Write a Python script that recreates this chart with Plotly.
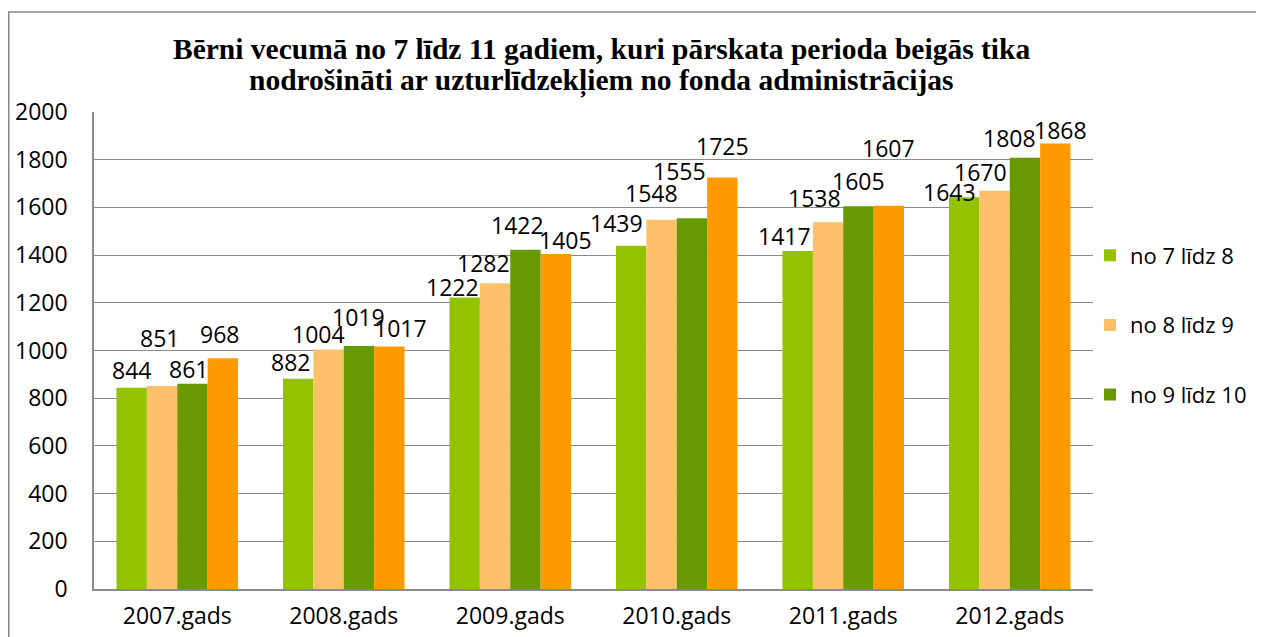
import plotly.graph_objects as go

categories = ["2007.gads", "2008.gads", "2009.gads", "2010.gads", "2011.gads", "2012.gads"]
series_names = ["no 7 līdz 8", "no 8 līdz 9", "no 9 līdz 10", "no 10 līdz 11"]
s1 = [844, 882, 1222, 1439, 1417, 1643]
s2 = [851, 1004, 1282, 1548, 1538, 1670]
s3 = [861, 1019, 1422, 1555, 1605, 1808]
s4 = [968, 1017, 1405, 1725, 1607, 1868]
series_values = [s1, s2, s3, s4]
y_ticks = [0, 200, 400, 600, 800, 1000, 1200, 1400, 1600, 1800, 2000]
title_line1 = "<b>Bērni vecumā no 7 līdz 11 gadiem, kuri pārskata perioda beigās tika</b>"
title_line2 = "<b>nodrošināti ar uzturlīdzekļiem no fonda administrācijas</b>"

# styling: colours and data-label pixel offsets (label centre above bar top / horizontal nudge)
colors = ["#93C200", "#FCC06A", "#669A00", "#FF9A00"]
label_dy = [[18, 17, 11, 23, 15, 5],
            [48, 16, 20, 27, 24, 19],
            [15, 29, 25, 47, 25, 20],
            [24, 18, 14, 32, 58, 13]]
label_dx = [[0, -8, -12, -15, -13, -15],
            [-3, -10, -12, -10, -14, -14],
            [-4, 0, -8, -12, 0, -15],
            [-3, 11, 10, 0, 0, 5]]

BARGAP = 0.27
n_series = len(series_values)
bar_w = (1 - BARGAP) / n_series

fig = go.Figure()
for i, (name, vals) in enumerate(zip(series_names, series_values)):
    fig.add_trace(go.Bar(
        x=categories, y=vals, name=name,
        marker=dict(color=colors[i], line=dict(width=0)),
        legendgroup=f"g{i}", showlegend=(i < 3),
    ))
    for j, v in enumerate(vals):
        fig.add_annotation(
            x=j + (i - (n_series - 1) / 2) * bar_w, y=v, xref="x", yref="y",
            text=str(v), showarrow=False, xanchor="center", yanchor="middle",
            yshift=label_dy[i][j], xshift=label_dx[i][j],
            font=dict(family="Open Sans", size=23, color="#000000"))

grid = "#8a8a8a"
fig.update_layout(
    width=1256, height=629,
    margin=dict(l=86, r=171, t=104, b=48, autoexpand=False),
    paper_bgcolor="white", plot_bgcolor="white",
    barmode="group", bargap=BARGAP, bargroupgap=0,
    font=dict(family="Open Sans", size=23, color="#000000"),
    legend=dict(x=0.997, xanchor="left", y=0.5535, yanchor="middle",
                font=dict(family="Open Sans", size=22, color="#000000"),
                tracegroupgap=38, traceorder="grouped", bgcolor="rgba(0,0,0,0)"),
    showlegend=True,
)
fig.update_yaxes(range=[0, 2000], tickvals=y_ticks, showgrid=True, gridcolor=grid, gridwidth=1.3,
                 showline=True, linecolor=grid, linewidth=1.5, ticks="",
                 ticklabelstandoff=20, zeroline=False, automargin=False,
                 tickfont=dict(family="Open Sans", size=23))
fig.update_xaxes(type="category", showline=True, linecolor=grid, linewidth=1.5, ticks="",
                 automargin=False,
                 tickfont=dict(family="Open Sans", size=23), ticklabelstandoff=6)

fig.add_annotation(text=title_line1, xref="paper", yref="paper", x=0.5085, y=1.1321,
                   xanchor="center", yanchor="middle", showarrow=False,
                   font=dict(family="Liberation Serif", size=29.5, color="#000000"))
fig.add_annotation(text=title_line2, xref="paper", yref="paper", x=0.5085, y=1.065,
                   xanchor="center", yanchor="middle", showarrow=False,
                   font=dict(family="Liberation Serif", size=29.5, color="#000000"))

fig.add_shape(type="rect", xref="paper", yref="paper",
              x0=(0.75 - 86) / 999, x1=1.3, y0=-0.3, y1=(581 - 4) / 477,
              line=dict(color="#868686", width=1.5), layer="below")

fig.write_html("out.html")
